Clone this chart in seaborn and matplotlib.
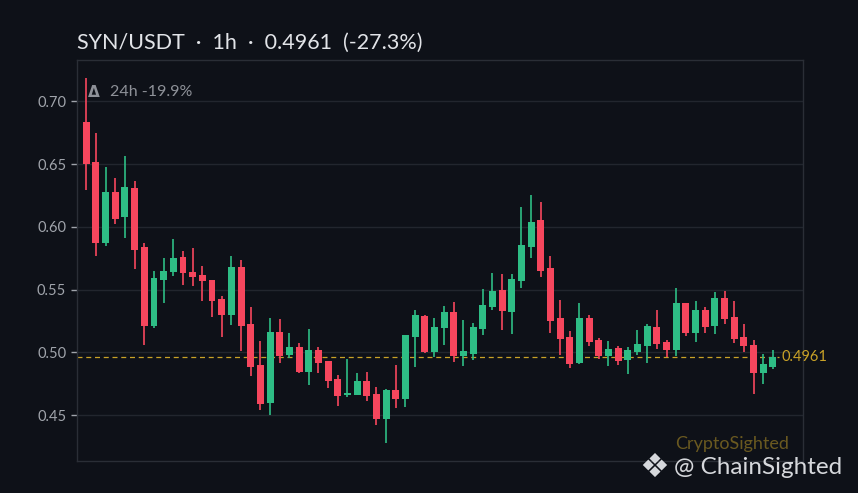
import numpy as np
import pandas as pd
import matplotlib
matplotlib.use("Agg")
import matplotlib.pyplot as plt
import seaborn as sns

# hourly candles SYN/USDT
opens = [0.6835, 0.6517, 0.5874, 0.6278, 0.6081, 0.6310, 0.5840, 0.5213, 0.5580, 0.5644,
         0.5760, 0.5641, 0.5617, 0.5577, 0.5426, 0.5300, 0.5681, 0.5227, 0.4901, 0.4600,
         0.5163, 0.4980, 0.5044, 0.4847, 0.5020, 0.4932, 0.4789, 0.4664, 0.4664, 0.4773,
         0.4670, 0.4473, 0.4701, 0.4633, 0.5126, 0.5290, 0.5004, 0.5198, 0.5322, 0.4975,
         0.4991, 0.5190, 0.5365, 0.5498, 0.5325, 0.5572, 0.5842, 0.6055, 0.5673, 0.5272,
         0.5121, 0.4919, 0.5272, 0.5100, 0.4975, 0.5033, 0.4943, 0.5004, 0.5052, 0.5203,
         0.5084, 0.5020, 0.5394, 0.5158, 0.5338, 0.5213, 0.5434, 0.5283, 0.5124, 0.5060,
         0.4836, 0.4887]
highs = [0.7188, 0.6750, 0.6480, 0.6390, 0.6565, 0.6366, 0.5874, 0.5651, 0.5752, 0.5904,
         0.5808, 0.5832, 0.5691, 0.5580, 0.5452, 0.5771, 0.5736, 0.5365, 0.5092, 0.5277,
         0.5269, 0.5158, 0.5073, 0.5187, 0.5047, 0.4932, 0.4821, 0.4948, 0.4839, 0.4845,
         0.4725, 0.4706, 0.4900, 0.5142, 0.5338, 0.5300, 0.5275, 0.5370, 0.5402, 0.5259,
         0.5235, 0.5506, 0.5636, 0.5628, 0.5628, 0.6161, 0.6256, 0.6200, 0.5768, 0.5418,
         0.5171, 0.5397, 0.5299, 0.5116, 0.5094, 0.5052, 0.5044, 0.5180, 0.5230, 0.5338,
         0.5100, 0.5516, 0.5394, 0.5410, 0.5365, 0.5482, 0.5492, 0.5410, 0.5227, 0.5100,
         0.4988, 0.5020]
lows = [0.6294, 0.5768, 0.5850, 0.6023, 0.5914, 0.5667, 0.5060, 0.5198, 0.5394, 0.5612,
        0.5540, 0.5530, 0.5412, 0.5283, 0.5124, 0.5219, 0.5012, 0.4813, 0.4542, 0.4505,
        0.4914, 0.4959, 0.4840, 0.4741, 0.4840, 0.4720, 0.4576, 0.4646, 0.4658, 0.4614,
        0.4423, 0.4280, 0.4558, 0.4566, 0.4885, 0.4994, 0.4964, 0.5060, 0.4927, 0.4895,
        0.4940, 0.5142, 0.5341, 0.5179, 0.5147, 0.5516, 0.5755, 0.5604, 0.5158, 0.4980,
        0.4879, 0.4911, 0.5052, 0.4946, 0.4893, 0.4900, 0.4831, 0.4980, 0.4919, 0.5028,
        0.4962, 0.4972, 0.5131, 0.5084, 0.5155, 0.5147, 0.5227, 0.5076, 0.5004, 0.4670,
        0.4749, 0.4869]
closes = [0.6503, 0.5874, 0.6278, 0.6065, 0.6318, 0.5818, 0.5213, 0.5593, 0.5649, 0.5752,
          0.5636, 0.5604, 0.5572, 0.5412, 0.5300, 0.5681, 0.5213, 0.4887, 0.4593, 0.5163,
          0.4975, 0.5044, 0.4847, 0.5020, 0.4919, 0.4776, 0.4656, 0.4680, 0.4773, 0.4656,
          0.4473, 0.4701, 0.4633, 0.5140, 0.5299, 0.5004, 0.5203, 0.5322, 0.4975, 0.5012,
          0.5203, 0.5378, 0.5490, 0.5333, 0.5585, 0.5856, 0.6039, 0.5651, 0.5253, 0.5110,
          0.4911, 0.5272, 0.5086, 0.4975, 0.5028, 0.4935, 0.5020, 0.5068, 0.5211, 0.5068,
          0.5020, 0.5394, 0.5158, 0.5338, 0.5205, 0.5434, 0.5269, 0.5108, 0.5052, 0.4839,
          0.4908, 0.4961]
last_price = 0.4961
y_ticks = [0.45, 0.50, 0.55, 0.60, 0.65, 0.70]

df = pd.DataFrame({'open': opens, 'high': highs, 'low': lows, 'close': closes})
df['i'] = np.arange(len(df))
df['up'] = df['close'] >= df['open']

bg = '#0e1118'
green = '#2ebd85'
red = '#f6465d'
gold = '#c9a227'

sns.set_theme(style='dark', rc={'axes.facecolor': bg, 'figure.facecolor': bg,
                                'axes.edgecolor': '#2a2e36', 'grid.color': '#22262e'})
plt.rcParams['font.family'] = ['Lato', 'DejaVu Sans']

fig = plt.figure(figsize=(8.58, 4.93), dpi=100)
ax = fig.add_axes([0.0901, 0.0649, 0.8454, 0.8128])

cols = np.where(df['up'], green, red)
ax.vlines(df['i'], df['low'], df['high'], colors=cols, linewidth=1.2, zorder=2)
body = (df['close'] - df['open']).abs().clip(lower=0.0008)
ax.bar(df['i'], body, bottom=np.minimum(df['open'], df['close']), width=0.72,
       color=cols, linewidth=0, zorder=3)

ax.axhline(last_price, xmin=0, xmax=0.968, color=gold, linestyle=(0, (4, 3)),
           linewidth=0.9, zorder=1)
ax.text(71.9, last_price, '0.4961', color=gold, fontsize=10.5, va='center', ha='left')

ax.set_xlim(-0.93, 74.08)
ax.set_ylim(0.4136, 0.7326)
ax.set_yticks(y_ticks)
ax.set_yticklabels([f'{v:.2f}' for v in y_ticks])
ax.set_xticks([])
ax.yaxis.grid(True, color='#22262e', linewidth=1)
ax.xaxis.grid(False)
ax.tick_params(axis='y', colors='#a0a4ab', labelsize=10.5, length=4, width=1,
               left=True, pad=4)
for s in ax.spines.values():
    s.set_color('#2a2e36')
    s.set_linewidth(1)

fig.text(0.090, 0.913, 'SYN/USDT  ·  1h  ·  0.4961  (-27.3%)', color='#e2e4e8',
         fontsize=15.5, ha='left', va='center')
fig.text(0.102, 0.813, 'Δ', color='#8e9198', fontsize=11, fontweight='bold',
         ha='left', va='center', family='DejaVu Sans')
fig.text(0.128, 0.813, '24h -19.9%', color='#8e9198', fontsize=11.5,
         ha='left', va='center')

fig.text(0.853, 0.099, 'CryptoSighted', color='#6a5920', fontsize=13, ha='center', va='center')
fig.text(0.745, 0.051, '❖', color='#d6d8dc', fontsize=24, ha='left', va='center',
         family='DejaVu Sans')
fig.text(0.785, 0.051, '@ ChainSighted', color='#d6d8dc', fontsize=17.5, ha='left', va='center')

fig.savefig('out.png', dpi=100, facecolor=bg)
